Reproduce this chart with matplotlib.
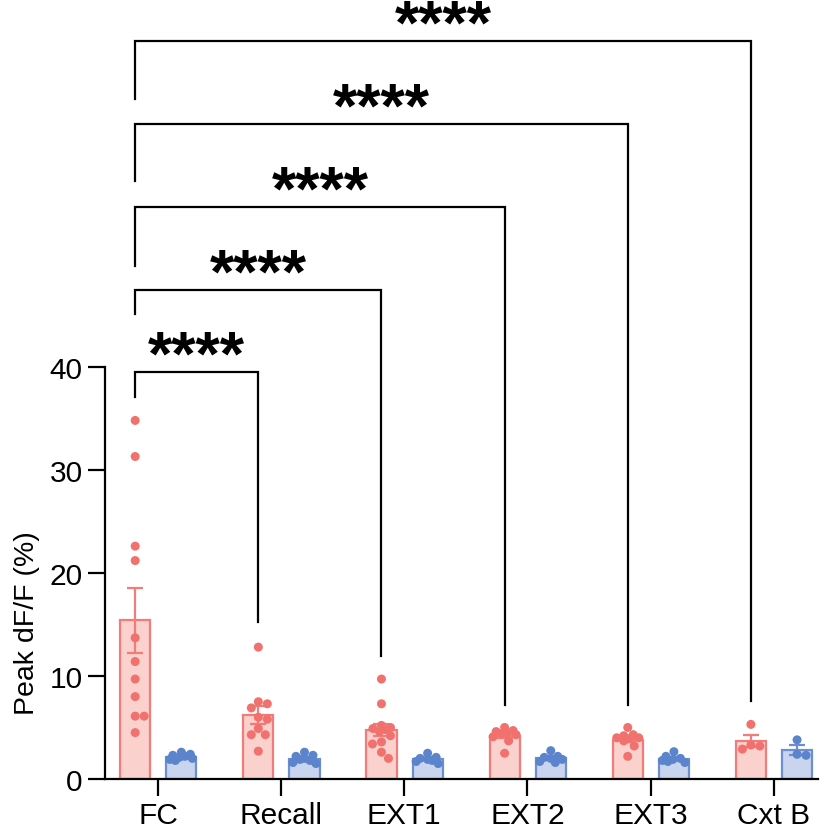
import numpy as np
import matplotlib
matplotlib.use("Agg")
import matplotlib.pyplot as plt

# ---------------- data ----------------
categories = ["FC", "Recall", "EXT1", "EXT2", "EXT3", "Cxt B"]

red_values = [
    [34.8, 31.3, 22.6, 21.2, 13.7, 11.4, 9.7, 8.0, 6.1, 6.1, 4.5],          # FC
    [12.8, 7.5, 7.3, 6.9, 6.0, 5.8, 4.9, 4.3, 4.3, 2.7],                   # Recall
    [9.7, 7.3, 5.2, 5.0, 4.9, 4.8, 4.6, 4.2, 3.6, 3.4, 2.6, 2.0],          # EXT1
    [5.0, 4.7, 4.6, 4.5, 4.4, 4.3, 4.1, 3.7, 2.5],                         # EXT2
    [5.0, 4.3, 4.2, 4.0, 4.0, 3.9, 3.7, 3.2, 2.2],                         # EXT3
    [5.3, 3.3, 3.2, 2.9],                                                  # Cxt B
]
blue_values = [
    [2.6, 2.4, 2.3, 2.2, 2.1, 2.0, 1.9, 1.8],     # FC
    [2.6, 2.3, 2.2, 2.0, 1.9, 1.8, 1.6, 1.5],     # Recall
    [2.5, 2.1, 2.0, 1.9, 1.8, 1.7, 1.5],          # EXT1
    [2.75, 2.2, 2.1, 2.0, 1.9, 1.7, 1.6],         # EXT2
    [2.65, 2.2, 2.0, 1.9, 1.8, 1.7, 1.6],         # EXT3
    [3.8, 2.4, 2.3],                              # Cxt B
]

# significance brackets: target category, bracket level, left-leg bottom, right-leg bottom
sig_targets = ["Recall", "EXT1", "EXT2", "EXT3", "Cxt B"]
sig_levels = [39.5, 47.5, 55.5, 63.6, 71.6]
sig_left_ends = [37.1, 45.1, 49.8, 58.0, 66.0]
sig_right_ends = [15.2, 11.9, 7.2, 7.2, 7.6]
sig_labels = ["****"] * 5

y_ticks = [0, 10, 20, 30, 40]
y_label = "Peak dF/F (%)"

# ---------------- style ----------------
RED_FILL = "#FAD1CC"
RED_EDGE = "#F27C79"
RED_PT = "#F1716E"
BLUE_FILL = "#C9D4EE"
BLUE_EDGE = "#6C8FD0"
BLUE_PT = "#5C84CC"

plt.rcParams["font.family"] = ["Liberation Sans", "DejaVu Sans"]

W, H, DPI = 826, 829, 100
fig = plt.figure(figsize=(W / DPI, H / DPI), dpi=DPI)
ax_left, ax_right, ax_bottom, ax_top = 105, 818, 780, 0
ax = fig.add_axes([ax_left / W, (H - ax_bottom) / H, (ax_right - ax_left) / W, (ax_bottom - ax_top) / H])
XMIN, XMAX, YMAX = -0.43, 5.36, 75.7
ax.set_xlim(XMIN, XMAX)
ax.set_ylim(0, YMAX)

xpx = (ax_right - ax_left) / (XMAX - XMIN)   # px per x unit
ypx = (ax_bottom - ax_top) / YMAX            # px per y unit

red_off, blue_off, bw = -0.185, 0.19, 0.245
x = np.arange(len(categories))


def swarm(vals, center, diam_px=9.0, max_off=11.5):
    """Simple beeswarm limited to the bar width (pixel space)."""
    placed = []
    xs = []
    grid = np.linspace(-max_off, max_off, 47)
    grid = grid[np.argsort(np.abs(grid))]
    for v in vals:
        vy = v * ypx
        best, best_d = 0.0, -1.0
        for c in grid:
            if placed:
                d = min(np.hypot(c - px, vy - py) for px, py in placed)
            else:
                d = np.inf
            if d >= diam_px:
                best = c
                break
            if d > best_d + 0.5:
                best, best_d = c, d
        placed.append((best, vy))
        xs.append(center + best / xpx)
    return xs


def draw_group(vals_list, off, fill, edge, pt):
    means = [np.mean(v) for v in vals_list]
    sems = [np.std(v, ddof=1) / np.sqrt(len(v)) for v in vals_list]
    pos = x + off
    ax.bar(pos, means, width=bw, color=fill, edgecolor=edge, linewidth=1.6, zorder=2)
    ax.errorbar(pos, means, yerr=sems, fmt="none", ecolor=edge, elinewidth=1.6,
                capsize=6, capthick=1.6, zorder=3)
    for p, v in zip(pos, vals_list):
        xs = swarm(v, p)
        ax.scatter(xs, v, s=42, color=pt, edgecolor="none", zorder=4, clip_on=False)


draw_group(red_values, red_off, RED_FILL, RED_EDGE, RED_PT)
draw_group(blue_values, blue_off, BLUE_FILL, BLUE_EDGE, BLUE_PT)

# brackets
x0 = 0 + red_off
for tgt, lvl, le, re, lab in zip(sig_targets, sig_levels, sig_left_ends, sig_right_ends, sig_labels):
    x1 = categories.index(tgt) + red_off
    ax.plot([x0, x0, x1, x1], [le, lvl, lvl, re], color="black", lw=1.6,
            solid_joinstyle="miter", clip_on=False, zorder=5)
    ax.text((x0 + x1) / 2, lvl + 1.45, lab, ha="center", va="center",
            fontsize=45, fontweight="bold", clip_on=False)

# axes styling
for s in ["top", "right"]:
    ax.spines[s].set_visible(False)
ax.spines["left"].set_bounds(0, 40)
ax.spines["left"].set_linewidth(1.6)
ax.spines["bottom"].set_linewidth(1.6)
ax.set_yticks(y_ticks)
ax.set_xticks(x)
ax.set_xticklabels(categories)
ax.tick_params(axis="both", direction="out", length=12, width=1.6, labelsize=21.5, pad=4)
ax.set_ylabel(y_label, fontsize=20.5)
ax.yaxis.set_label_coords((40 - ax_left) / (ax_right - ax_left), (ax_bottom - 623) / (ax_bottom - ax_top))

fig.savefig("out.png", dpi=DPI)
